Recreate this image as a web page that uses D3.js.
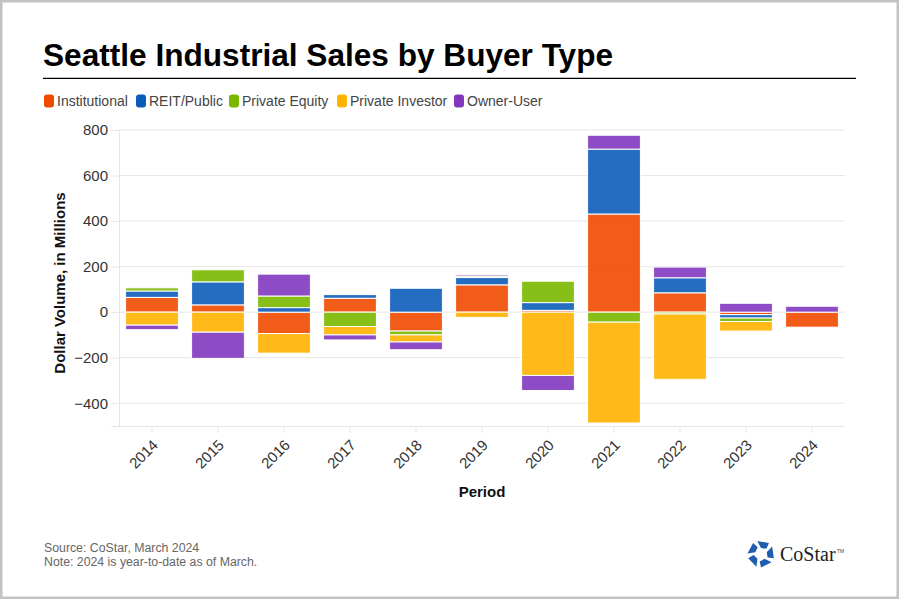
<!DOCTYPE html>
<html>
<head>
<meta charset="utf-8">
<script src="https://cdn.jsdelivr.net/npm/d3@7"></script>
<style>
  html, body { margin: 0; padding: 0; background: #fff; }
  svg { display: block; font-family: "Liberation Sans", Arial, sans-serif; }
</style>
</head>
<body>
<svg id="chart" width="900" height="600"></svg>
<script>
// ---- Data ----
const years = ["2014","2015","2016","2017","2018","2019","2020","2021","2022","2023","2024"];
const seriesNames = ["Institutional","REIT/Public","Private Equity","Private Investor","Owner-User"];
const seriesColors = ["#EF4B00","#0B5CB8","#7AB800","#FFB300","#8138BF"];
const institutional   = [65, 32, -94, 61, -83, 120, 8, 431, 85, -11, -66];
const reitPublic      = [28, 101, 20, 16, 105, 32, 34, 285, 66, -15, 0];
const privateEquity   = [14, 53, 51, -63, -17, 6, 94, -44, -8, -15, 0];
const privateInvestor = [-57, -88, -86, -37, -31, -23, -278, -443, -287, -42, 0];
const ownerUser       = [-20, -115, 96, -22, -34, 6, -66, 61, 47, 39, 26];
const yTicks = [-400, -200, 0, 200, 400, 600, 800];
const seriesValues = [institutional, reitPublic, privateEquity, privateInvestor, ownerUser];

const svg = d3.select("#chart");

// frame
svg.append("rect").attr("x", 1.25).attr("y", 1.25).attr("width", 896.5).attr("height", 596.5)
  .attr("fill", "#fff").attr("stroke", "#c2c2c2").attr("stroke-width", 2.5);

// title
svg.append("text").attr("x", 43).attr("y", 66)
  .attr("font-size", 31.6).attr("font-weight", "bold").attr("fill", "#000")
  .text("Seattle Industrial Sales by Buyer Type");
svg.append("line").attr("x1", 43).attr("x2", 856).attr("y1", 78.3).attr("y2", 78.3)
  .attr("stroke", "#000").attr("stroke-width", 1.3);

// legend
const legendX = [44, 136, 229, 337, 454];
seriesNames.forEach((n, i) => {
  const g = svg.append("g").attr("transform", `translate(${legendX[i]},0)`);
  g.append("rect").attr("x", 0).attr("y", 94.5).attr("width", 10).attr("height", 13)
    .attr("rx", 3).attr("fill", seriesColors[i]);
  g.append("text").attr("x", 13).attr("y", 106).attr("font-size", 14).attr("fill", "#444").text(n);
});

// scales
const plotL = 119, plotR = 845, plotT = 130, plotB = 426;
const x = d3.scaleBand().domain(years).range([plotL, plotR]).paddingInner(0.2).paddingOuter(0.1);
const y = d3.scaleLinear().domain([-500, 800]).range([plotB, plotT]);

// gridlines
svg.append("g").selectAll("line").data(yTicks).join("line")
  .attr("x1", plotL).attr("x2", plotR)
  .attr("y1", d => y(d)).attr("y2", d => y(d))
  .attr("stroke", "#e6e6e6").attr("stroke-width", 1);

// y axis
const yAxis = svg.append("g").attr("transform", `translate(${plotL},0)`)
  .call(d3.axisLeft(y).tickValues(yTicks).tickSize(8).tickPadding(3).tickFormat(d3.format("d")));
yAxis.select(".domain").attr("stroke", "#e6e6e6");
yAxis.selectAll(".tick line").attr("stroke", "#e6e6e6");
yAxis.selectAll(".tick text").attr("font-size", 15).attr("fill", "#333")
  .attr("font-family", "Liberation Sans, Arial, sans-serif");

// x axis
const xAxis = svg.append("g").attr("transform", `translate(0,${plotB})`)
  .call(d3.axisBottom(x).tickSize(7).tickSizeOuter(0));
xAxis.select(".domain").attr("stroke", "#e6e6e6").attr("d", `M${plotL},0.5H${plotR}`);
xAxis.selectAll(".tick line").attr("stroke", "#e6e6e6");
xAxis.selectAll(".tick text")
  .attr("font-size", 15).attr("fill", "#333")
  .attr("font-family", "Liberation Sans, Arial, sans-serif")
  .attr("text-anchor", "end").attr("dy", null).attr("y", 0)
  .attr("transform", "translate(7,20) rotate(-45)");

// stacked bars
const posAcc = years.map(() => 0), negAcc = years.map(() => 0);
seriesValues.forEach((vals, si) => {
  const segs = vals.map((v, i) => {
    let y0, y1;
    if (v >= 0) { y0 = posAcc[i]; y1 = posAcc[i] + v; posAcc[i] = y1; }
    else { y0 = negAcc[i]; y1 = negAcc[i] + v; negAcc[i] = y1; }
    return { year: years[i], y0, y1, v };
  }).filter(d => d.v !== 0);
  svg.append("g").selectAll("rect").data(segs).join("rect")
    .attr("x", d => x(d.year))
    .attr("width", x.bandwidth())
    .attr("y", d => y(Math.max(d.y0, d.y1)))
    .attr("height", d => Math.abs(y(d.y0) - y(d.y1)))
    .attr("fill", seriesColors[si]).attr("fill-opacity", 0.9)
    .attr("stroke", "#fff").attr("stroke-width", 1);
});

// axis titles
svg.append("text").attr("transform", `translate(65,283) rotate(-90)`)
  .attr("text-anchor", "middle").attr("font-size", 15).attr("font-weight", "bold").attr("fill", "#111")
  .text("Dollar Volume, in Millions");
svg.append("text").attr("x", 482).attr("y", 497)
  .attr("text-anchor", "middle").attr("font-size", 15).attr("font-weight", "bold").attr("fill", "#111")
  .text("Period");

// footer
svg.append("text").attr("x", 44).attr("y", 552).attr("font-size", 12.3).attr("fill", "#666")
  .text("Source: CoStar, March 2024");
svg.append("text").attr("x", 44).attr("y", 566).attr("font-size", 12.3).attr("fill", "#666")
  .text("Note: 2024 is year-to-date as of March.");

// logo
const logo = svg.append("g").attr("transform", "translate(761,554)");
const R = 13.5, r = 6;
const pt = (ang, rad) => [rad * Math.cos(ang * Math.PI / 180), rad * Math.sin(ang * Math.PI / 180)];
for (let k = 0; k < 5; k++) {
  const a = -90 + k * 72 + 10;
  const pts = [pt(a - 26, R), pt(a + 26, R), pt(a + 36, r + 1.5), pt(a - 10, r)];
  logo.append("polygon").attr("points", pts.map(p => p.join(",")).join(" ")).attr("fill", "#1F5EAE");
}
svg.append("text").attr("x", 780).attr("y", 561).attr("font-size", 20)
  .attr("font-family", "Liberation Serif, 'DejaVu Serif', serif").attr("fill", "#222").text("CoStar");
svg.append("text").attr("x", 837).attr("y", 553).attr("font-size", 5)
  .attr("font-family", "Liberation Sans, Arial, sans-serif").attr("fill", "#444").text("TM");
</script>
</body>
</html>
